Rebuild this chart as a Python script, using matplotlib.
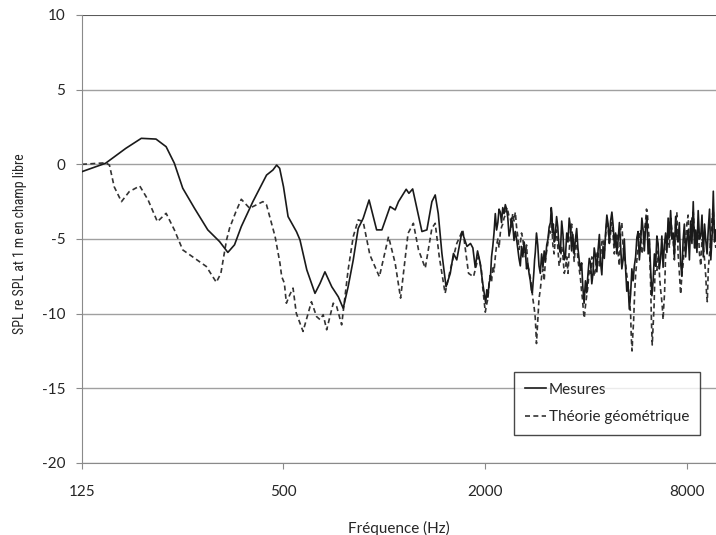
import matplotlib
matplotlib.use("Agg")
import matplotlib.pyplot as plt
from matplotlib.ticker import NullLocator
from matplotlib import font_manager

# frequence (Hz) / niveau (dB)
# --- Mesures, basses frequences
freq_mes_low = [125, 147, 169, 188, 208, 223, 236, 250, 271, 297, 322, 341, 357, 374, 405,
                445, 465, 477, 487, 500, 516, 547, 560, 587, 621, 643, 665, 697, 729, 754,
                780, 808, 836, 865, 901, 949, 984, 1041, 1078, 1103, 1163, 1185, 1216, 1255,
                1296, 1341, 1388, 1420, 1450, 1487, 1530, 1575, 1610, 1647, 1707, 1767, 1810,
                1840, 1870, 1900, 1935, 1970]
spl_mes_low = [-0.49, 0.07, 1.07, 1.74, 1.69, 1.18, 0.07, -1.6, -2.94, -4.39, -5.17, -5.9, -5.39, -4.17, -2.5,
               -0.72, -0.38, -0.05, -0.27, -1.5, -3.5, -4.52, -5.06, -7.07, -8.64, -7.97, -7.2, -8.2, -8.87, -9.64,
               -8.2, -6.4, -4.29, -3.62, -2.39, -4.39, -4.39, -2.83, -3.05, -2.5, -1.67, -1.94, -1.65, -3.05,
               -4.5, -4.39, -2.5, -2.05, -3.3, -5.97, -8.2, -7.3, -5.97, -6.4, -4.5, -5.5, -5.3,
               -5.6, -6.9, -5.8, -6.6, -8.0]

# --- Mesures, hautes frequences
freq_mes_high = [2010, 2025, 2040, 2058, 2075, 2092, 2110, 2128, 2147, 2166,
                 2185, 2203, 2222, 2241, 2260, 2280, 2300, 2320, 2340, 2360,
                 2381, 2400, 2420, 2442, 2464, 2485, 2505, 2527, 2550, 2572,
                 2595, 2618, 2640, 2662, 2685, 2708, 2732, 2750, 2770, 2785,
                 2800, 2813, 2827, 2850, 2875, 2900, 2926, 2953, 2980, 3005,
                 3031, 3058, 3085, 3110, 3138, 3155, 3170, 3185, 3200, 3223,
                 3247, 3273, 3300, 3330, 3360, 3390, 3420, 3450, 3478, 3510,
                 3540, 3570, 3600, 3630, 3660, 3693, 3726, 3758, 3790, 3823,
                 3856, 3888, 3920, 3955, 3991, 4025, 4060, 4098, 4135, 4170,
                 4205, 4240, 4280, 4318, 4355, 4393, 4430, 4468, 4505, 4545,
                 4585, 4625, 4665, 4705, 4746, 4788, 4830, 4870, 4912, 4955,
                 5000, 5042, 5084, 5127, 5170, 5215, 5262, 5305, 5350, 5398,
                 5446, 5493, 5540, 5588, 5637, 5686, 5735, 5784, 5834, 5885,
                 5935, 5986, 6038, 6090, 6145, 6197, 6250, 6305, 6360, 6415,
                 6469, 6525, 6580, 6637, 6695, 6752, 6810, 6870, 6930, 6990,
                 7050, 7110, 7172, 7235, 7300, 7360, 7423, 7485, 7550, 7615,
                 7683, 7750, 7815, 7883, 7952, 8020, 8090, 8160, 8234, 8305,
                 8380, 8450, 8522, 8595, 8670, 8748, 8825, 8900, 8980, 9058,
                 9135, 9215, 9295, 9375, 9455, 9540, 9620, 9700, 9788]
spl_mes_high = [-9.3, -8.4, -8.9, -7.9, -7.7, -6.2, -5.5, -4.6, -3.3, -4.4,
                -3.9, -3.0, -3.2, -3.9, -2.9, -3.3, -2.7, -3.0, -3.6, -4.8,
                -4.4, -3.6, -4.0, -5.1, -4.5, -5.0, -5.6, -6.3, -6.8, -5.5,
                -6.2, -5.2, -5.8, -7.0, -6.6, -7.3, -7.8, -8.4, -8.6, -7.9,
                -7.2, -6.4, -5.9, -4.6, -5.4, -6.8, -7.3, -6.0, -6.9, -5.8,
                -6.5, -5.4, -5.0, -4.2, -3.9, -2.9, -3.3, -4.6, -4.0, -5.2,
                -4.6, -3.5, -4.2, -5.6, -5.9, -3.8, -4.7, -6.4, -6.2, -4.6,
                -5.2, -3.6, -4.2, -5.8, -4.7, -6.0, -5.0, -4.3, -5.6, -6.4,
                -7.1, -6.6, -8.2, -9.3, -7.8, -8.6, -7.4, -6.3, -6.6, -8.0,
                -7.3, -5.6, -6.2, -7.2, -5.7, -4.7, -6.6, -7.4, -5.5, -6.3,
                -4.6, -3.4, -4.0, -5.3, -3.8, -3.2, -4.1, -5.4, -4.6, -6.0,
                -5.0, -3.9, -5.5, -7.0, -6.4, -5.0, -7.0, -8.5, -7.9, -9.7,
                -8.7, -7.0, -7.8, -6.8, -6.2, -4.9, -4.5, -6.4, -5.3, -3.6,
                -4.4, -5.8, -4.2, -3.5, -6.0, -5.0, -7.0, -8.8, -7.8, -6.0,
                -6.8, -4.8, -5.3, -7.0, -6.3, -4.8, -6.9, -5.4, -4.6, -5.9,
                -3.6, -4.9, -3.1, -5.0, -4.6, -6.2, -3.5, -4.8, -5.2, -3.9,
                -6.6, -7.5, -5.1, -4.0, -6.2, -5.0, -4.4, -6.4, -3.8, -5.3,
                -2.5, -5.6, -4.4, -5.9, -3.1, -5.0, -4.8, -3.4, -6.2, -4.0,
                -5.1, -6.0, -4.3, -3.0, -6.4, -4.8, -1.8, -5.2, -4.4]

# --- Theorie geometrique, basses frequences
freq_geo_low = [125, 147, 151, 156, 164, 173, 186, 197, 210, 223, 236, 250, 271, 294, 315,
                325, 338, 345, 360, 374, 396, 434, 445, 472, 488, 494, 503, 510, 522, 534,
                546, 572, 606, 628, 643, 657, 673, 704, 721, 746, 780, 808, 836, 865, 906,
                967, 1030, 1078, 1119, 1178, 1222, 1266, 1326, 1388, 1420, 1460, 1520, 1575,
                1647, 1717, 1786, 1848, 1912]
spl_geo_low = [0.0, 0.1, -0.05, -1.5, -2.5, -1.83, -1.45, -2.39, -3.84, -3.28, -4.39, -5.73, -6.28, -6.84, -7.9,
               -7.3, -5.06, -4.28, -3.2, -2.34, -2.94, -2.5, -2.72, -4.84, -6.62, -7.53, -7.95, -9.3, -8.74, -8.29,
               -9.97, -11.19, -9.2, -10.2, -10.4, -10.07, -11.08, -9.3, -9.53, -10.75, -7.07, -4.84, -3.72, -3.84, -6.07,
               -7.53, -4.84, -6.62, -8.96, -4.62, -3.95, -5.73, -6.95, -4.28, -3.95, -6.18, -8.64, -7.07,
               -5.3, -4.39, -7.3, -7.53, -6.18]

# --- Theorie geometrique, hautes frequences
freq_geo_high = [1950, 1968, 1985, 2004, 2022, 2040, 2058, 2075, 2092, 2110,
                 2128, 2147, 2166, 2185, 2203, 2222, 2241, 2260, 2280, 2300,
                 2315, 2330, 2355, 2381, 2400, 2420, 2442, 2464, 2485, 2505,
                 2527, 2550, 2572, 2595, 2618, 2640, 2662, 2685, 2708, 2732,
                 2756, 2780, 2805, 2827, 2850, 2875, 2900, 2926, 2953, 2980,
                 3005, 3031, 3058, 3085, 3110, 3138, 3165, 3190, 3218, 3247,
                 3273, 3300, 3330, 3360, 3390, 3420, 3450, 3478, 3510, 3540,
                 3570, 3600, 3630, 3660, 3693, 3726, 3758, 3790, 3823, 3856,
                 3883, 3910, 3935, 3960, 3991, 4025, 4060, 4098, 4135, 4170,
                 4205, 4240, 4280, 4318, 4355, 4393, 4430, 4468, 4505, 4545,
                 4585, 4625, 4665, 4705, 4746, 4788, 4830, 4870, 4912, 4955,
                 5000, 5042, 5084, 5127, 5170, 5215, 5262, 5305, 5350, 5398,
                 5446, 5470, 5500, 5530, 5560, 5600, 5637, 5686, 5735, 5784,
                 5834, 5885, 5935, 5986, 6038, 6075, 6110, 6150, 6190, 6220,
                 6250, 6285, 6320, 6360, 6400, 6435, 6469, 6525, 6580, 6615,
                 6650, 6695, 6740, 6775, 6810, 6845, 6880, 6905, 6930, 6990,
                 7050, 7110, 7172, 7235, 7300, 7360, 7423, 7485, 7550, 7615,
                 7683, 7750, 7815, 7883, 7952, 8020, 8090, 8160, 8234, 8305,
                 8380, 8450, 8522, 8595, 8670, 8748, 8825, 8900, 8980, 9058,
                 9135, 9180, 9230, 9262, 9295, 9375, 9455, 9540, 9620, 9700, 9788]
spl_geo_high = [-7.0, -8.2, -9.0, -9.9, -9.4, -9.0, -8.0, -7.3, -7.9, -6.8,
                -7.2, -6.2, -5.4, -5.0, -5.6, -4.6, -4.2, -4.0, -3.6, -3.4,
                -3.0, -2.9, -3.4, -3.6, -4.2, -3.3, -3.8, -3.2, -4.2, -4.8,
                -5.7, -5.3, -4.6, -5.0, -5.9, -6.2, -5.4, -6.8, -7.1, -7.6,
                -8.2, -9.0, -9.6, -10.3, -12.0, -10.5, -9.0, -8.4, -7.5, -7.0,
                -7.8, -6.4, -5.8, -5.2, -4.4, -4.6, -3.9, -5.4, -6.0, -4.9,
                -4.4, -5.5, -6.8, -6.4, -5.5, -6.2, -7.3, -7.0, -6.2, -7.3,
                -5.8, -4.6, -4.0, -5.2, -6.5, -5.6, -5.0, -6.4, -7.0, -7.6,
                -8.4, -9.0, -9.8, -10.3, -9.5, -8.8, -8.2, -7.0, -7.3, -6.2,
                -6.6, -7.5, -7.0, -6.0, -5.8, -6.8, -6.2, -5.2, -5.0, -5.8,
                -4.8, -3.8, -4.2, -5.4, -4.6, -3.9, -4.8, -6.0, -5.3, -4.6,
                -6.0, -6.8, -4.4, -3.9, -5.5, -6.2, -6.7, -7.4, -8.0, -9.0,
                -10.0, -11.5, -12.5, -11.4, -10.5, -8.6, -7.4, -6.4, -5.6, -4.8,
                -4.4, -6.0, -5.5, -4.5, -3.8, -3.0, -3.2, -4.2, -5.0, -6.4,
                -8.0, -10.5, -12.1, -10.8, -9.5, -7.5, -6.4, -7.1, -5.8, -6.6,
                -7.6, -8.4, -9.0, -9.6, -10.4, -9.4, -8.6, -7.4, -6.0, -5.2,
                -4.4, -5.6, -3.6, -4.4, -5.2, -6.4, -4.0, -3.2, -6.0, -7.2,
                -8.7, -7.4, -6.7, -5.4, -5.0, -4.0, -3.4, -5.2, -4.6, -3.6,
                -3.2, -4.6, -5.6, -4.8, -4.2, -6.0, -6.8, -5.0, -5.4, -6.4,
                -7.5, -8.6, -9.2, -8.0, -7.0, -6.0, -5.0, -3.6, -3.0, -4.8, -5.6]

xticks = [125, 500, 2000, 8000]
yticks = [-20, -15, -10, -5, 0, 5, 10]

plt.rcParams['font.family'] = ['Lato', 'DejaVu Sans']

# police etroite pour le titre de l'axe y si elle existe
installed = {f.name for f in font_manager.fontManager.ttflist}
if 'Roboto Condensed' in installed:
	ylab_family, ylab_size = 'Roboto Condensed', 10
elif 'Liberation Sans Narrow' in installed:
	ylab_family, ylab_size = 'Liberation Sans Narrow', 10.5
else:
	ylab_family, ylab_size = 'Lato', 8.4

fig = plt.figure(figsize=(7.16, 5.35), dpi=100)
ax = fig.add_axes([0.1145, 0.1346, 0.8855, 0.8374])

for v in yticks:
	ax.axhline(v, color='#5a5a5a' if v == 10 else '#a0a0a0', lw=1.5 if v == 10 else 1.0, zorder=1)

ax.plot(freq_mes_low + freq_mes_high, spl_mes_low + spl_mes_high,
	color='#1a1a1a', lw=1.2, label='Mesures', zorder=3)
ax.plot(freq_geo_low + freq_geo_high, spl_geo_low + spl_geo_high,
	color='#333333', lw=1.2, ls=(0, (3, 2)), label='Théorie géométrique', zorder=2)

ax.set_xscale('log')
ax.set_xlim(125, 9800)
ax.set_ylim(-20, 10)
ax.set_xticks(xticks)
ax.set_xticklabels([str(t) for t in xticks])
ax.xaxis.set_minor_locator(NullLocator())
ax.set_yticks(yticks)
ax.set_yticklabels([str(t) for t in yticks])

for s in ['top', 'right']:
	ax.spines[s].set_visible(False)
ax.spines['left'].set_color('#8a8a8a')
ax.spines['bottom'].set_color('#8a8a8a')
ax.tick_params(axis='both', colors='#8a8a8a', labelcolor='#262626', labelsize=11, length=4)
ax.tick_params(axis='x', pad=12)
ax.tick_params(axis='y', pad=8)

ax.set_xlabel('Fréquence (Hz)', fontsize=11, color='#262626', labelpad=16)

# titre de l'axe y : haut du texte vers y = 153 px
fig.text(20 / 716, 1 - 153 / 535, 'SPL re SPL at 1 m en champ libre', rotation=90,
	ha='center', va='top', fontsize=ylab_size, color='#262626', family=ylab_family)

leg = ax.legend(loc='lower right', bbox_to_anchor=(0.987, 0.045), fontsize=11,
	frameon=True, fancybox=False, handlelength=1.4, handletextpad=0.2,
	borderpad=0.7, labelspacing=0.9)
leg.get_frame().set_edgecolor('#1a1a1a')
leg.get_frame().set_linewidth(1.0)
for t in leg.get_texts():
	t.set_color('#262626')

fig.savefig('out.png', dpi=100)
